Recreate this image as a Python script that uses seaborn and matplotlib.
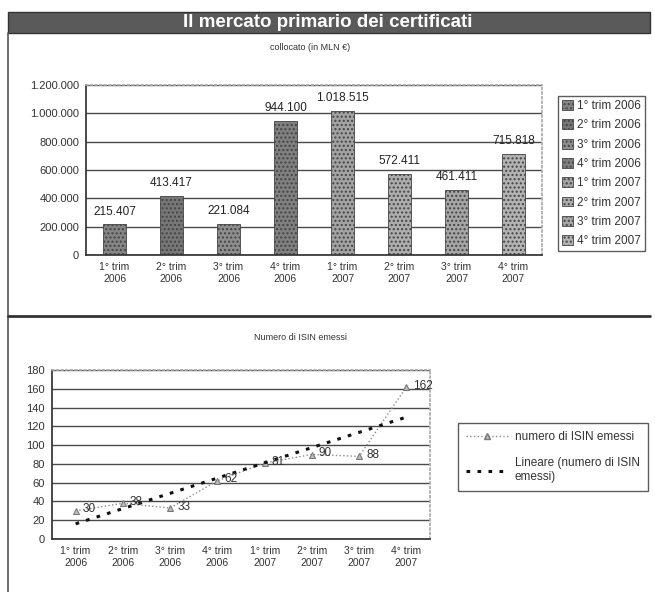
import numpy as np
import pandas as pd
import matplotlib
matplotlib.use("Agg")
import matplotlib.pyplot as plt
import matplotlib.transforms as mtrans
from matplotlib.patches import Rectangle
from matplotlib.lines import Line2D
import seaborn as sns

# ---------------- data ----------------
quarters = ["1° trim 2006", "2° trim 2006", "3° trim 2006", "4° trim 2006",
            "1° trim 2007", "2° trim 2007", "3° trim 2007", "4° trim 2007"]
tick_labels = ["1° trim\n2006", "2° trim\n2006", "3° trim\n2006", "4° trim\n2006",
               "1° trim\n2007", "2° trim\n2007", "3° trim\n2007", "4° trim\n2007"]
collocato = [215407, 413417, 221084, 944100, 1018515, 572411, 461411, 715818]
isin_emessi = [30, 38, 33, 62, 81, 90, 88, 162]
bar_yticks = [0, 200000, 400000, 600000, 800000, 1000000, 1200000]
bar_ytick_labels = ["0", "200.000", "400.000", "600.000", "800.000", "1.000.000", "1.200.000"]
line_yticks = [0, 20, 40, 60, 80, 100, 120, 140, 160, 180]

title = "Il mercato primario dei certificati"
sub1 = "collocato (in MLN €)"
sub2 = "Numero di ISIN emessi"
leg_line1 = "numero di ISIN emessi"
leg_line2 = "Lineare (numero di ISIN\nemessi)"

# ---------------- style ----------------
sns.set_theme(style="white")
plt.rcParams["font.family"] = ["Liberation Sans", "DejaVu Sans"]

W, H = 655, 592
fig = plt.figure(figsize=(W / 100, H / 100), dpi=100)
fig.patch.set_facecolor("white")


def fx(px):
    return px / W


def fy(py):
    return 1 - py / H


# banner
fig.patches.append(Rectangle((fx(8), fy(33)), fx(650) - fx(8), fy(12) - fy(33),
                             transform=fig.transFigure, facecolor="#5a5a5a",
                             edgecolor="#333333", lw=1))
fig.text(fx(328), fy(22.5), title, color="white", weight="bold", fontsize=13.5,
         ha="center", va="center")
# panel frame lines
fig.add_artist(Line2D([fx(8), fx(8)], [fy(33), fy(592)], color="#555555", lw=1.2,
                      transform=fig.transFigure))
fig.add_artist(Line2D([fx(8), fx(650)], [fy(316), fy(316)], color="#333333", lw=2,
                      transform=fig.transFigure))

fig.text(fx(310), fy(48), sub1, fontsize=6.5, color="#333333", ha="center", va="center")
fig.text(fx(301), fy(338), sub2, fontsize=6.5, color="#333333", ha="center", va="center")

# ---------------- bar chart ----------------
ax1 = fig.add_axes([fx(86), fy(255), fx(542) - fx(86), fy(85) - fy(255)])
df = pd.DataFrame({"trimestre": quarters, "collocato": collocato})
palette = ["#858585", "#777777", "#8e8e8e", "#808080",
           "#a3a3a3", "#adadad", "#a6a6a6", "#b3b3b3"]
sns.barplot(data=df, x="trimestre", y="collocato", hue="trimestre", palette=palette,
            width=0.42, ax=ax1, legend=False, edgecolor="#444444", linewidth=0.6,
            saturation=1)
for p in ax1.patches:
    p.set_hatch("....")
for cont, v in zip(ax1.containers, collocato):
    ax1.bar_label(cont, labels=[f"{v:,}".replace(",", ".")], fontsize=8.5,
                  color="#222222", padding=5)
ax1.set_ylim(0, 1200000)
ax1.set_yticks(bar_yticks)
ax1.set_yticklabels(bar_ytick_labels, fontsize=8, color="#333333")
ax1.set_xticks(range(len(quarters)))
ax1.set_xticklabels(tick_labels, fontsize=7.5, color="#333333")
ax1.set_xlim(-0.5, 7.5)
ax1.set_xlabel("")
ax1.set_ylabel("")
ax1.yaxis.grid(True, color="#4a4a4a", lw=1)
ax1.set_axisbelow(True)
for s in ["top", "right"]:
    ax1.spines[s].set_color("#aaaaaa")
    ax1.spines[s].set_linestyle(":")
for s in ["left", "bottom"]:
    ax1.spines[s].set_color("#333333")
ax1.tick_params(axis="both", length=3, direction="out", color="#333333", pad=2)
ax1.legend(handles=list(ax1.patches), labels=quarters, loc="upper left",
           bbox_to_anchor=(fx(552), fy(90)), bbox_transform=fig.transFigure,
           fontsize=8.5, frameon=True, fancybox=False, edgecolor="#333333",
           handlelength=0.9, handleheight=0.9, labelspacing=0.62,
           borderpad=0.35, handletextpad=0.35, labelcolor="#333333")

# ---------------- line chart ----------------
ax2 = fig.add_axes([fx(52), fy(539), fx(430) - fx(52), fy(370) - fy(539)])
dfl = pd.DataFrame({"pos": np.arange(len(isin_emessi)), "isin": isin_emessi})
sns.lineplot(data=dfl, x="pos", y="isin", ax=ax2, color="#8c8c8c", lw=1,
             ls=":", marker="^", markersize=4, markeredgecolor="#777777",
             markerfacecolor="#bbbbbb")
sns.regplot(data=dfl, x="pos", y="isin", ax=ax2, scatter=False, ci=None,
            line_kws=dict(color="#111111", lw=2.2, ls=(0, (1.2, 2.4))))
for x, v in zip(dfl["pos"], isin_emessi):
    ax2.annotate(str(v), (x, v), xytext=(5, 1), textcoords="offset points",
                 fontsize=8.5, ha="left", va="center", color="#333333")
ax2.set_xlim(-0.5, 7.5)
ax2.set_ylim(0, 180)
ax2.set_yticks(line_yticks)
ax2.set_yticklabels([str(t) for t in line_yticks], fontsize=8, color="#333333")
ax2.set_xticks(range(len(quarters)))
ax2.set_xticklabels(tick_labels, fontsize=7.5, color="#333333")
shift = mtrans.ScaledTranslation(-0.38, 0, fig.dpi_scale_trans)
for lbl in ax2.get_xticklabels():
    lbl.set_transform(lbl.get_transform() + shift)
ax2.set_xlabel("")
ax2.set_ylabel("")
ax2.yaxis.grid(True, color="#4a4a4a", lw=1)
ax2.set_axisbelow(True)
for s in ["top", "right"]:
    ax2.spines[s].set_color("#aaaaaa")
    ax2.spines[s].set_linestyle(":")
for s in ["left", "bottom"]:
    ax2.spines[s].set_color("#333333")
ax2.tick_params(axis="both", length=3, direction="out", color="#333333", pad=2)

h1 = Line2D([], [], color="#8c8c8c", lw=1, ls=":", marker="^", markersize=4,
            markeredgecolor="#777777", markerfacecolor="#bbbbbb")
h2 = Line2D([], [], color="#111111", lw=2.2, ls=(0, (1.2, 2.4)))
ax2.legend(handles=[h1, h2], labels=[leg_line1, leg_line2], loc="upper left",
           bbox_to_anchor=(fx(452), fy(417)), bbox_transform=fig.transFigure,
           fontsize=8.5, frameon=True, fancybox=False, edgecolor="#333333",
           handlelength=3.6, labelspacing=1.2, borderpad=0.7,
           handletextpad=0.5, labelcolor="#333333")

fig.savefig("out.png", dpi=100)
